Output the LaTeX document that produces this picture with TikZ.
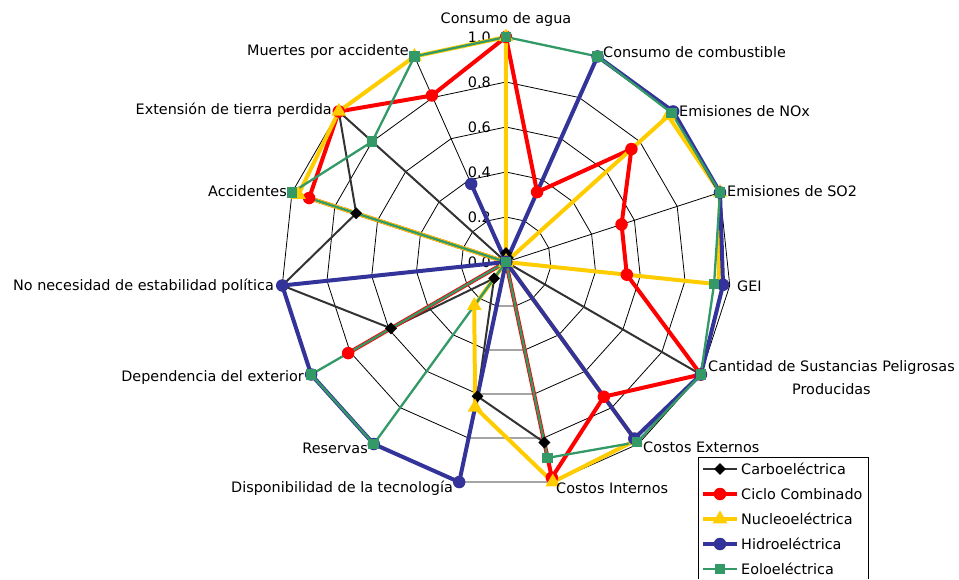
\documentclass[tikz,border=0pt]{standalone}
\usepackage{fontspec}
\setmainfont{DejaVu Sans}
\usetikzlibrary{shapes.geometric}
\definecolor{carbo}{HTML}{333333}
\definecolor{ciclo}{HTML}{FF0000}
\definecolor{nucleo}{HTML}{FFCC00}
\definecolor{hidro}{HTML}{333399}
\definecolor{eolo}{HTML}{339966}
\tikzset{
  lab/.style={font=\fontsize{14.4}{23}\selectfont,inner sep=0pt},
  grid line/.style={black,line width=0.8pt},
  markfill/.style={inner sep=0pt,fill=#1,draw=none},
  carbo-line/.style={carbo,line width=2pt},
  ciclo-line/.style={ciclo,line width=4pt},
  nucleo-line/.style={nucleo,line width=4pt},
  hidro-line/.style={hidro,line width=4pt},
  eolo-line/.style={eolo,line width=2.3pt},
  carbo-mark/.style={markfill=black,diamond,minimum size=12pt},
  ciclo-mark/.style={markfill=ciclo,circle,minimum size=12.5pt},
  nucleo-mark/.style={markfill=nucleo,regular polygon,regular polygon sides=3,minimum size=17pt},
  hidro-mark/.style={markfill=hidro,circle,minimum size=12.5pt},
  eolo-mark/.style={markfill=eolo,rectangle,minimum size=10.5pt},
}
% #1 serie, #2 values from Consumo de agua clockwise
\newcommand\serie[2]{%
  \foreach \v [count=\k from 0] in {#2}
    \coordinate (#1-\k) at ({90-24*\k}:{225*\v});
  \draw[#1-line,line join=round] (#1-0) \foreach \k in {1,...,14}{-- (#1-\k)} -- cycle;
}
\begin{document}
\begin{tikzpicture}[x=1pt,y=1pt]
\useasboundingbox (-506,-317) rectangle (453,262);
% grid
\coordinate (o) at (0,0);
\foreach \k in {0,...,14}
  \coordinate (ax-\k) at ({90-24*\k}:225);
\foreach \r in {45,90,...,225}
  \draw[grid line] (90:\r) \foreach \k in {1,...,14}{-- ({90-24*\k}:\r)} -- cycle;
\foreach \k in {0,...,14}
  \draw[grid line] (o) -- (ax-\k);
\foreach \t [count=\i from 0] in {0.0,0.2,0.4,0.6,0.8,1.0}
  \node[lab,anchor=east] (tick-\i) at (-15,{45*\i}) {\t};
% series
\serie{carbo}{0.04,0.02,0,0,0,1,0,0.82,0.61,0.09,0.59,1,0.70,1,0}
\serie{ciclo}{1,0.34,0.75,0.54,0.54,1,0.74,0.98,0,0,0.81,0,0.92,1,0.81}
\serie{nucleo}{1,0,0.97,1,0.95,0,0.98,1,0.66,0.24,0,0,0.97,1,1}
\serie{hidro}{0,1,1,1,0.97,1,0.97,0,1,1,1,1,0,0,0.38}
\serie{eolo}{1,1,0.99,1,0.93,1,0.99,0.89,0,1,1,0,1,0.80,1}
\foreach \s in {carbo,ciclo,nucleo,hidro,eolo}
  \foreach \k in {0,...,14}
    \node[\s-mark] (\s-m\k) at (\s-\k) {};
% axis names
\node[lab] (l0) at (0,242) {Consumo de agua};
\node[lab,anchor=west] (l1) at (97,210) {Consumo de combustible};
\node[lab,anchor=west] (l2) at (173,151) {Emisiones de NOx};
\node[lab,anchor=west] (l3) at (221,71) {Emisiones de SO2};
\node[lab,anchor=west] (l4) at (231,-24) {GEI};
\node[lab,anchor=west,align=center] (l5) at (202,-115.5) {Cantidad de Sustancias Peligrosas\\Producidas};
\node[lab,anchor=west] (l6) at (137,-185) {Costos Externos};
\node[lab,anchor=west] (l7) at (50,-226) {Costos Internos};
\node[lab,anchor=east] (l8) at (-53,-226) {Disponibilidad de la tecnología};
\node[lab,anchor=east] (l9) at (-138,-186) {Reservas};
\node[lab,anchor=east] (l10) at (-202,-116) {Dependencia del exterior};
\node[lab,anchor=east] (l11) at (-232,-24) {No necesidad de estabilidad política};
\node[lab,anchor=east] (l12) at (-219,71) {Accidentes};
\node[lab,anchor=east] (l13) at (-174,152) {Extensión de tierra perdida};
\node[lab,anchor=east] (l14) at (-97,210) {Muertes por accidente};
% legend
\fill[white] (192,-317) rectangle (362,-195);
\draw[grid line] (192,-317) |- (362,-195) -- (362,-317);
\foreach \s/\t [count=\i from 0] in {carbo/Carboeléctrica,ciclo/Ciclo Combinado,nucleo/Nucleoeléctrica,hidro/Hidroeléctrica,eolo/Eoloeléctrica}{
  \coordinate (key-\i) at (214,{-207-25*\i});
  \draw[\s-line] ([xshift=-17pt]key-\i) -- ([xshift=17pt]key-\i);
  \node[\s-mark] at (key-\i) {};
  \node[lab,anchor=west] (txt-\i) at ([xshift=21pt]key-\i) {\t};
}
\end{tikzpicture}
\end{document}
